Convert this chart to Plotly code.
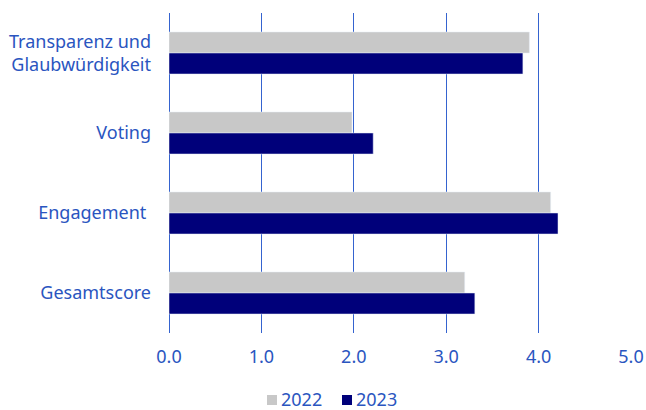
import plotly.graph_objects as go

categories = ["Transparenz und<br>Glaubwürdigkeit", "Voting", "Engagement\u00a0", "Gesamtscore"]
series_names = ["2022", "2023"]
values_2022 = [3.9, 1.98, 4.13, 3.2]
values_2023 = [3.83, 2.21, 4.21, 3.31]
tick_vals = [0, 1, 2, 3, 4, 5]
tick_text = ["0.0", "1.0", "2.0", "3.0", "4.0", "5.0"]

text_color = "#2a55c0"
grid_color = "#3563cf"
colors = ["#c8c8c8", "#00007a"]
font_size = 18

W, H = 646, 410
ML, MR, MT, MB = 169, 15, 13, 77
plot_w, plot_h = W - ML - MR, H - MT - MB


def px_x(px):
    return (px - ML) / plot_w


def px_y(py):
    return (H - MB - py) / plot_h


fig = go.Figure()
for name, vals, col in zip(series_names, [values_2022, values_2023], colors):
    fig.add_trace(go.Bar(y=categories, x=vals, name=name, orientation="h",
                         marker=dict(color=col), showlegend=False))

# legend drawn below the axis: small square swatch followed by the year
legend_x = [267, 342]
for name, col, lx in zip(series_names, colors, legend_x):
    fig.add_shape(type="rect", xref="paper", yref="paper",
                  x0=px_x(lx), x1=px_x(lx + 10), y0=px_y(395), y1=px_y(405),
                  fillcolor=col, line=dict(width=0))
    fig.add_annotation(xref="paper", yref="paper", x=px_x(lx + 13), y=px_y(398.5),
                       xanchor="left", yanchor="middle", text=name, showarrow=False,
                       font=dict(size=font_size, color=text_color), borderpad=0)

fig.update_layout(
    width=W, height=H,
    margin=dict(l=ML, r=MR, t=MT, b=MB, autoexpand=False),
    paper_bgcolor="white", plot_bgcolor="white",
    barmode="group", bargap=0.475, bargroupgap=0,
    font=dict(family="Noto Sans", size=font_size, color=text_color),
    showlegend=False,
    xaxis=dict(range=[0, 5], tickvals=tick_vals, ticktext=tick_text,
               showgrid=True, gridcolor=grid_color, gridwidth=1,
               zeroline=True, zerolinecolor=grid_color, zerolinewidth=1,
               showline=False, ticks="", ticklabelstandoff=11, automargin=False,
               tickfont=dict(size=font_size, color=text_color)),
    yaxis=dict(categoryorder="array", categoryarray=categories, autorange="reversed",
               showgrid=False, showline=False, ticks="", ticklabelstandoff=17,
               automargin=False, tickfont=dict(size=font_size, color=text_color)),
)

fig.write_html("out.html")
